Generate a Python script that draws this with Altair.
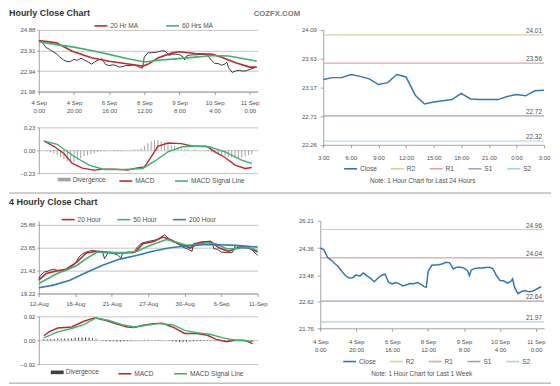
import json
import altair as alt
import pandas as pd

# ---------------- data ----------------
# Hourly close, last week (bar index -> close); used by the top-left and bottom-right panels
WEEK_IDX = [0, 2, 4, 6, 8, 10, 12, 14, 16, 18, 20, 22, 24, 26, 28, 30, 32, 34, 36, 38, 40, 42, 44, 46,
            48, 50, 52, 54, 56, 58, 59, 60, 62, 64, 66, 68, 70, 72, 74, 76, 78, 80, 82, 83, 84, 86, 88,
            90, 92, 94, 96, 98, 100, 102, 104, 106, 107, 108, 110, 112, 114, 116, 118, 120, 122, 123]
WEEK_CLOSE = [24.36, 24.30, 24.06, 23.97, 23.86, 23.76, 23.60, 23.47, 23.39, 23.40, 23.49, 23.45,
              23.55, 23.46, 23.38, 23.27, 23.38, 23.47, 23.52, 23.25, 23.20, 23.24, 23.20, 23.13,
              23.17, 23.21, 23.20, 23.24, 23.18, 23.10, 23.09, 23.60, 23.80, 23.81, 23.82, 23.85,
              23.90, 23.88, 23.68, 23.74, 23.74, 23.71, 23.62, 23.47, 23.65, 23.70, 23.71, 23.71,
              23.73, 23.74, 23.69, 23.47, 23.31, 23.30, 23.22, 23.28, 23.36, 23.10, 22.88, 22.95,
              22.98, 22.94, 22.96, 23.02, 23.08, 23.11]

MA20_IDX = [0, 10, 19, 30, 40, 50, 59, 62, 68, 76, 80, 89, 99, 104, 112, 120, 124]
MA20 = [24.38, 24.27, 23.88, 23.57, 23.41, 23.29, 23.18, 23.26, 23.57, 23.80, 23.85, 23.77, 23.73,
        23.60, 23.34, 23.13, 23.13]
MA60_IDX = [0, 10, 20, 30, 40, 50, 60, 68, 78, 89, 99, 108, 116, 124]
MA60 = [24.32, 24.19, 24.07, 23.91, 23.73, 23.54, 23.37, 23.45, 23.52, 23.60, 23.68, 23.65, 23.54, 23.41]

TL_MACD_IDX = [0, 6, 12, 17, 23, 30, 36, 42, 50, 55, 60, 64, 68, 74, 82, 88, 97, 102, 108, 114, 120, 124]
TL_MACD = [0.093, 0.04, -0.033, -0.133, -0.18, -0.20, -0.19, -0.19, -0.20, -0.18, -0.167, -0.067,
           0.04, 0.073, 0.067, 0.043, 0.04, -0.017, -0.073, -0.15, -0.183, -0.173]
TL_SIG_IDX = [0, 8, 17, 27, 36, 48, 59, 67, 74, 82, 89, 99, 108, 118, 124]
TL_SIG = [0.093, 0.06, -0.05, -0.15, -0.193, -0.193, -0.183, -0.10, -0.017, 0.033, 0.043, 0.033,
          -0.017, -0.10, -0.133]
TL_DIV_IDX = list(range(0, 125, 2))
TL_DIV = [0.00, -0.01, -0.02, -0.03, -0.05, -0.07, -0.09, -0.11, -0.12, -0.12, -0.10, -0.08, -0.06,
          -0.05, -0.04, -0.03, -0.02, -0.01, -0.01, 0.00, 0.00, -0.01, -0.01, -0.01, 0.00, 0.00,
          0.00, 0.01, 0.01, 0.02, 0.04, 0.07, 0.09, 0.10, 0.10, 0.09, 0.08, 0.07, 0.05, 0.04, 0.03,
          0.02, 0.01, 0.01, 0.00, 0.01, 0.00, 0.00, 0.00, -0.01, -0.02, -0.03, -0.04, -0.05, -0.06,
          -0.07, -0.07, -0.08, -0.08, -0.07, -0.06, -0.05, -0.04]

# 4-hourly close chart
BL_IDX = [0, 1, 3, 5, 6, 8, 10, 13, 15, 17, 19, 21, 22, 24, 26, 29, 31, 33, 35, 36, 38, 41, 43, 45,
          46, 49, 52, 54, 56, 57, 60, 63, 65, 67, 69, 71, 73, 75, 76, 79, 82, 84, 85, 87, 89, 92, 95,
          96, 98, 100, 103, 106, 108, 111, 114, 116, 118, 120]
BL_CLOSE = [20.67, 20.99, 21.31, 21.38, 21.47, 21.57, 21.47, 21.38, 21.57, 21.79, 21.96, 22.44,
            22.76, 23.08, 23.24, 23.40, 23.34, 23.24, 23.24, 22.60, 23.18, 23.08, 22.98, 22.66,
            23.15, 23.18, 23.15, 23.72, 24.05, 24.14, 24.27, 24.37, 24.46, 24.69, 24.91, 24.59,
            24.27, 24.14, 24.05, 23.72, 23.50, 23.31, 24.05, 24.14, 24.21, 24.27, 24.21, 23.56,
            23.50, 23.24, 23.18, 23.18, 23.89, 23.82, 23.72, 23.63, 23.24, 22.92]
H20_IDX = [0, 4, 10, 15, 21, 26, 32, 37, 43, 48, 53, 57, 63, 68, 72, 77, 83, 88, 94, 99, 104, 110, 115, 120]
H20 = [20.51, 21.15, 21.41, 21.57, 22.28, 23.15, 23.31, 23.24, 23.15, 23.18, 23.24, 24.05, 24.27,
       24.69, 24.46, 24.05, 23.63, 24.14, 24.27, 23.63, 23.31, 23.72, 23.63, 23.24]
H50_IDX = [0, 5, 10, 15, 21, 26, 32, 37, 43, 48, 54, 59, 65, 70, 75, 81, 86, 92, 97, 103, 108, 114, 120]
H50 = [20.19, 20.67, 21.15, 21.47, 21.96, 22.60, 23.24, 23.18, 23.18, 23.18, 23.31, 23.72, 24.14,
       24.46, 24.21, 23.89, 23.95, 24.14, 24.05, 23.56, 23.56, 23.72, 23.40]
H200_IDX = [0, 8, 17, 26, 35, 44, 54, 63, 72, 81, 90, 99, 108, 120]
H200 = [19.77, 20.03, 20.51, 21.25, 21.96, 22.53, 22.92, 23.34, 23.66, 23.82, 23.95, 23.95, 23.89, 23.72]

BL_MACD_IDX = [0, 3, 8, 16, 23, 29, 34, 41, 48, 52, 57, 63, 68, 74, 81, 88, 94, 99, 105, 110, 115, 120]
BL_MACD = [0.17, 0.32, 0.47, 0.51, 0.73, 0.86, 0.79, 0.64, 0.51, 0.49, 0.575, 0.64, 0.66, 0.51, 0.26,
           0.26, 0.19, 0.03, -0.06, 0.0, 0.0, -0.13]
BL_SIG_IDX = [0, 8, 16, 23, 30, 37, 45, 52, 59, 66, 74, 81, 88, 96, 103, 110, 120]
BL_SIG = [0.09, 0.32, 0.45, 0.60, 0.86, 0.77, 0.60, 0.51, 0.575, 0.64, 0.60, 0.38, 0.29, 0.22, 0.09,
          0.0, -0.04]
BL_DIV_IDX = list(range(0, 121, 2))
BL_DIV = [0.05, 0.04, 0.05, 0.06, 0.07, 0.06, 0.06, 0.07, 0.08, 0.09, 0.10, 0.10, 0.11, 0.10, 0.08,
          0.04, 0.00, -0.02, -0.03, -0.04, -0.04, -0.05, -0.05, -0.04, -0.03, -0.02, -0.01, 0.00,
          0.01, 0.02, 0.02, 0.01, 0.01, 0.02, 0.01, 0.00, -0.02, -0.04, -0.06, -0.07, -0.07, -0.06,
          -0.05, -0.04, -0.03, -0.03, -0.02, -0.02, -0.01, -0.01, -0.02, -0.03, -0.04, -0.03, -0.02,
          0.00, 0.00, 0.01, 0.00, -0.02, -0.04]

# Last 24 hours
DAY_H = list(range(25))
DAY_CLOSE = [23.30, 23.33, 23.33, 23.38, 23.35, 23.31, 23.22, 23.25, 23.38, 23.34, 23.05, 22.91,
             22.94, 22.96, 22.98, 23.08, 22.99, 22.98, 22.98, 22.98, 23.03, 23.06, 23.04, 23.12, 23.13]

LEVEL_NAMES = ["R2", "R1", "S1", "S2"]
TR_LEVELS = [24.01, 23.56, 22.72, 22.32]
BR_LEVELS = [24.96, 24.04, 22.64, 21.97]

# axis ticks / labels
TICKS120 = [0, 20, 40, 60, 80, 100, 120]
TL_XLABELS = ["4 Sep|0:00", "4 Sep|20:00", "6 Sep|16:00", "8 Sep|12:00", "9 Sep|8:00", "10 Sep|4:00", "11 Sep|0:00"]
BL_XLABELS = ["12-Aug", "16-Aug", "21-Aug", "27-Aug", "30-Aug", "6-Sep", "11-Sep"]
TR_XTICKS = [0, 3, 6, 9, 12, 15, 18, 21, 24]
TR_XLABELS = ["3:00", "6:00", "9:00", "12:00", "15:00", "18:00", "21:00", "0:00", "3:00"]
TL_YTICKS = [21.98, 22.94, 23.91, 24.88]
TLM_YTICKS = [-0.23, 0.0, 0.23]
BL_YTICKS = [19.22, 21.43, 23.65, 25.88]
BLM_YTICKS = [-0.92, 0.0, 0.92]
TR_YTICKS = [22.26, 22.71, 23.17, 23.63, 24.09]
BR_YTICKS = [21.76, 22.62, 23.48, 24.36, 25.24]

# ---------------- style ----------------
FONT = "Liberation Sans"
FS = 6.0
LEG_FS = 6.6
AXC = "#8c8c8c"
GRIDC = "#b4b4b4"
LABC = "#505050"
RED = "#c0282d"
GREEN = "#3db36f"
BLUE = "#2f7bbd"
LVL_COLORS = ["#2e78b7", "#d2d29a", "#dea3a6", "#a99cbf", "#a3d7df"]


def yaxis(values, grid=True, tick=2, pad=2, expr=None):
    kw = dict(values=values, format=".2f", title=None, grid=grid, gridColor=GRIDC, gridWidth=0.8,
              domainColor=AXC, domainWidth=0.8, tickColor=AXC, tickSize=tick, tickWidth=0.8,
              labelFont=FONT, labelFontSize=FS, labelColor=LABC, labelPadding=pad, labelOverlap=False)
    if expr:
        kw["labelExpr"] = expr
    return alt.Axis(**kw)


def xaxis(values, labels, step, pad):
    expr = "split(%s[round(datum.value/%d)], '|')" % (json.dumps(labels), step)
    return alt.Axis(values=values, labelExpr=expr, title=None, grid=False, domainColor=AXC,
                    domainWidth=0.8, tickColor=AXC, tickSize=3, tickWidth=0.8, labelFont=FONT,
                    labelFontSize=FS, labelColor=LABC, labelPadding=pad, labelLineHeight=8,
                    labelAngle=0, labelOverlap=False, labelFlush=False)


def legend(x, y, cpad=12, stype="stroke", sw=1.6):
    return alt.Legend(orient="none", legendX=x, legendY=y, direction="horizontal", title=None,
                      symbolType=stype, symbolSize=169, symbolStrokeWidth=sw, labelFont=FONT,
                      labelFontSize=LEG_FS, labelColor=LABC, labelOffset=2, columnPadding=cpad,
                      padding=0, rowPadding=0)


def ma_frame(pairs):
    return pd.concat([pd.DataFrame({"i": ix, "v": vals, "s": name}) for name, ix, vals in pairs],
                     ignore_index=True)


def sep(h, r):
    # horizontal separator spanning the page (x relative to the left plot origin)
    return alt.Chart(pd.DataFrame({"k": [0]})).mark_rule(color="#9c9c9c", strokeWidth=1).encode(
        x=alt.value(-30), x2=alt.value(515), y=alt.value(r)).properties(width=515, height=h)


def note(text, x, y):
    return alt.Chart(pd.DataFrame({"t": [text]})).mark_text(
        align="center", baseline="middle", font=FONT, fontSize=6.5, color="#505050").encode(
        x=alt.value(x), y=alt.value(y), text="t:N")


def anchors(xs):
    # invisible zero-opacity ticks that fix each panel's outer extent for the grid layout
    layers = [alt.Chart(pd.DataFrame({"k": [0]})).mark_rule(color="white", strokeOpacity=0, strokeWidth=1).encode(
        x=alt.value(x), x2=alt.value(x + 1), y=alt.value(0)) for x in xs]
    return layers[0] if len(layers) == 1 else alt.layer(*layers)


def indep(c):
    return c.resolve_scale(color="independent", fill="independent").resolve_legend(
        color="independent", fill="independent")


# ---------------- top-left: hourly close ----------------
tl_X = alt.X("i:Q", scale=alt.Scale(domain=[0, 124.5], nice=False, zero=False),
             axis=xaxis(TICKS120, TL_XLABELS, 20, 5))
tl_Y = alt.Y("v:Q", scale=alt.Scale(domain=[21.98, 24.88], nice=False, zero=False), axis=yaxis(TL_YTICKS))
tl_close = alt.Chart(pd.DataFrame({"i": WEEK_IDX, "v": WEEK_CLOSE})).mark_line(
    color="#262626", strokeWidth=0.9).encode(x=tl_X, y=tl_Y)
tl_ma = alt.Chart(ma_frame([("20 Hr MA", MA20_IDX, MA20), ("60 Hrs MA", MA60_IDX, MA60)])).mark_line(
    strokeWidth=1.6).encode(
    x=tl_X, y=tl_Y,
    color=alt.Color("s:N", scale=alt.Scale(domain=["20 Hr MA", "60 Hrs MA"], range=[RED, GREEN]),
                    legend=legend(55, -12, 24)))
cozfx = alt.Chart(pd.DataFrame({"t": ["COZFX.COM"]})).mark_text(
    align="left", baseline="middle", font=FONT, fontSize=7.8, fontWeight="bold", color="#7a7a7a").encode(
    x=alt.value(216), y=alt.value(-16), text="t:N")
tl_main = alt.layer(tl_close, tl_ma, cozfx, anchors([-30, 262])).properties(
    width=220, height=62,
    title=alt.TitleParams("Hourly Close Chart", anchor="start", offset=-8.5, fontSize=9, font=FONT,
                          fontWeight="bold", color="#333333", frame="bounds"))

# ---------------- top-left: MACD ----------------
tlm_X = alt.X("i:Q", scale=alt.Scale(domain=[0, 124.5], nice=False, zero=False), axis=None)
tlm_Y = alt.Y("v:Q", scale=alt.Scale(domain=[-0.23, 0.23], nice=False, zero=False), axis=yaxis(TLM_YTICKS))
tl_div = alt.Chart(pd.DataFrame({"i": TL_DIV_IDX, "v": TL_DIV, "d": "Divergence"})).mark_bar(width=1).encode(
    x=tlm_X, y=tlm_Y, y2=alt.datum(0),
    fill=alt.Fill("d:N", scale=alt.Scale(domain=["Divergence"], range=["#a3a3a3"]),
                  legend=legend(19, 46, stype="M-1,-0.28H1V0.28H-1Z", sw=0)))
tl_ml = alt.Chart(ma_frame([("MACD", TL_MACD_IDX, TL_MACD), ("MACD Signal Line", TL_SIG_IDX, TL_SIG)])).mark_line(
    strokeWidth=1.4).encode(
    x=tlm_X, y=tlm_Y,
    color=alt.Color("s:N", scale=alt.Scale(domain=["MACD", "MACD Signal Line"], range=[RED, GREEN]),
                    legend=legend(80, 46, 16)))
tl_macd = alt.layer(tl_div, tl_ml).properties(width=220, height=46)

# ---------------- top-right: last 24 hours ----------------
tr_X = alt.X("h:Q", scale=alt.Scale(domain=[0, 24], nice=False, zero=False),
             axis=xaxis(TR_XTICKS, TR_XLABELS, 3, 7))
tr_Y = alt.Y("v:Q", scale=alt.Scale(domain=[22.26, 24.09], nice=False, zero=False),
             axis=yaxis(TR_YTICKS, grid=False, tick=3, pad=4))
tr_C = alt.Color("s:N", scale=alt.Scale(domain=["Close"] + LEVEL_NAMES, range=LVL_COLORS),
                 legend=legend(20, 131.7, 10))
tr_lv_df = pd.DataFrame({"s": LEVEL_NAMES, "v": TR_LEVELS, "lbl": ["%.2f" % v for v in TR_LEVELS]})
tr_rules = alt.Chart(tr_lv_df).mark_rule(strokeWidth=1.2).encode(y=tr_Y, color=tr_C)
tr_line = alt.Chart(pd.DataFrame({"h": DAY_H, "v": DAY_CLOSE, "s": "Close"})).mark_line(strokeWidth=1.5).encode(
    x=tr_X, y=tr_Y, color=tr_C)
tr_txt = alt.Chart(tr_lv_df).mark_text(align="right", baseline="bottom", dy=-1, font=FONT, fontSize=6.5,
                                       color="#505050").encode(x=alt.value(220), y=tr_Y, text="lbl:N")
tr = alt.layer(tr_rules, tr_line, tr_txt, note("Note: 1 Hour Chart for Last 24 Hours", 100, 151.5),
               anchors([-22])).properties(width=222, height=115.5)

# ---------------- bottom-left: 4 hourly close ----------------
bl_X = alt.X("i:Q", scale=alt.Scale(domain=[0, 120], nice=False, zero=False),
             axis=xaxis(TICKS120, BL_XLABELS, 20, 4))
bl_Y = alt.Y("v:Q", scale=alt.Scale(domain=[19.22, 26.266], nice=False, zero=False), axis=yaxis(BL_YTICKS))
bl_close = alt.Chart(pd.DataFrame({"i": BL_IDX, "v": BL_CLOSE})).mark_line(
    color="#262626", strokeWidth=0.9).encode(x=bl_X, y=bl_Y)
bl_ma = alt.Chart(ma_frame([("20 Hour", H20_IDX, H20), ("50 Hour", H50_IDX, H50),
                            ("200 Hour", H200_IDX, H200)])).mark_line(strokeWidth=1.6).encode(
    x=bl_X, y=bl_Y,
    color=alt.Color("s:N", scale=alt.Scale(domain=["20 Hour", "50 Hour", "200 Hour"], range=[RED, GREEN, BLUE]),
                    legend=legend(22, -9.2, 12)))
bl_main = alt.layer(bl_close, bl_ma, anchors([-30, 232])).properties(
    width=220, height=73,
    title=alt.TitleParams("4 Hourly Close Chart", anchor="start", offset=4.6, fontSize=9, font=FONT,
                          fontWeight="bold", color="#333333", frame="bounds"))

blm_X = alt.X("i:Q", scale=alt.Scale(domain=[0, 120], nice=False, zero=False), axis=None)
blm_Y = alt.Y("v:Q", scale=alt.Scale(domain=[-0.92, 0.92], nice=False, zero=False), axis=yaxis(BLM_YTICKS))
bl_div = alt.Chart(pd.DataFrame({"i": BL_DIV_IDX, "v": BL_DIV, "d": "Divergence"})).mark_bar(width=1).encode(
    x=blm_X, y=blm_Y, y2=alt.datum(0),
    fill=alt.Fill("d:N", scale=alt.Scale(domain=["Divergence"], range=["#3f3f3f"]),
                  legend=legend(12, 49.8, stype="M-1,-0.28H1V0.28H-1Z", sw=0)))
bl_ml = alt.Chart(ma_frame([("MACD", BL_MACD_IDX, BL_MACD), ("MACD Signal Line", BL_SIG_IDX, BL_SIG)])).mark_line(
    strokeWidth=1.4).encode(
    x=blm_X, y=blm_Y,
    color=alt.Color("s:N", scale=alt.Scale(domain=["MACD", "MACD Signal Line"], range=[RED, GREEN]),
                    legend=legend(79, 49.8, 16)))
bl_macd = alt.layer(bl_div, bl_ml).properties(width=220, height=48)

# ---------------- bottom-right: last week ----------------
br_X = alt.X("i:Q", scale=alt.Scale(domain=[0, 124.5], nice=False, zero=False),
             axis=xaxis(TICKS120, TL_XLABELS, 20, 7))
br_Y = alt.Y("v:Q", scale=alt.Scale(domain=[21.76, 25.24], nice=False, zero=False),
             axis=yaxis(BR_YTICKS, grid=False, tick=3, pad=4,
                        expr="datum.value > 25 ? '26.21' : format(datum.value, '.2f')"))
br_C = alt.Color("s:N", scale=alt.Scale(domain=["Close"] + LEVEL_NAMES, range=LVL_COLORS),
                 legend=legend(22, 133.5, 10))
br_lv_df = pd.DataFrame({"s": LEVEL_NAMES, "v": BR_LEVELS, "lbl": ["%.2f" % v for v in BR_LEVELS]})
br_rules = alt.Chart(br_lv_df).mark_rule(strokeWidth=1.2).encode(y=br_Y, color=br_C)
br_line = alt.Chart(pd.DataFrame({"i": WEEK_IDX, "v": WEEK_CLOSE, "s": "Close"})).mark_line(strokeWidth=1.5).encode(
    x=br_X, y=br_Y, color=br_C)
br_txt = alt.Chart(br_lv_df).mark_text(align="right", baseline="bottom", dy=-1, font=FONT, fontSize=6.5,
                                       color="#505050").encode(x=alt.value(223), y=br_Y, text="lbl:N")
br = alt.layer(br_rules, br_line, br_txt, note("Note: 1 Hour Chart for Last 1 Week", 102, 154),
               anchors([-22])).properties(width=225, height=108)

# ---------------- layout ----------------
row1 = indep(alt.hconcat(indep(alt.vconcat(tl_main, tl_macd, spacing=11)), tr, spacing=0))
row2 = indep(alt.hconcat(indep(alt.vconcat(bl_main, bl_macd, spacing=7)), br, spacing=27))
chart = indep(alt.vconcat(row1, sep(12.2, 8), row2, sep(6, 5.2), spacing=0)).properties(
    padding=0, background="white").configure(font=FONT).configure_view(strokeWidth=0)

chart.save("out.html", embed_options={"renderer": "svg", "actions": False})
